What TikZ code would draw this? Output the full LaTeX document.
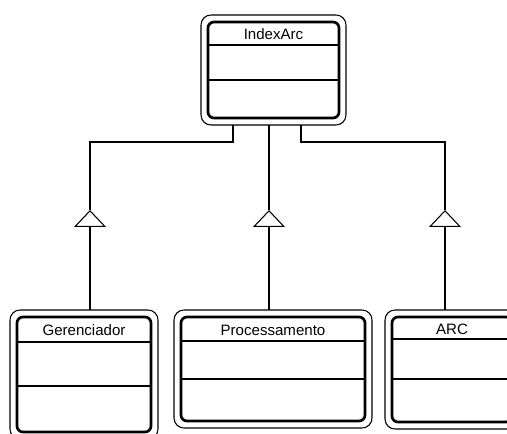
\documentclass[tikz,border=0pt]{standalone}
\usepackage{fontspec}
\setmainfont{Liberation Sans}
\usetikzlibrary{arrows.meta,calc}
\begin{document}
\begin{tikzpicture}[x=0.75pt,y=-0.75pt,line width=0.8pt,
    frame/.style={draw,line width=0.8pt,rounded corners=7.5pt,inner sep=0pt,outer sep=0pt},
    classbox/.style={draw,line width=2pt,rounded corners=4.5pt,inner sep=0pt,outer sep=0pt},
    title/.style={font=\fontsize{11.3}{13}\selectfont,inner sep=0pt,text height=1.5ex,text depth=0.25ex},
    gen/.style={-{Triangle[open,width=24pt,length=12.75pt]}}]
    \useasboundingbox (0,0) rectangle (507,434);
    \clip (0,0) rectangle (507,434);
    % --- classes: name/cx/cy/w/h/first line/second line/title
    \foreach \nm/\cx/\cy/\w/\h/\la/\lb/\txt in {
        indexarc/273.5/70/131/96/23/58/IndexArc,
        gerenc/84/374.5/134/115/25/69/Gerenciador,
        process/273/369/184/104/24/62/Processamento,
        arcbox/452/369.5/120/105/22/62/ARC} {
      \node[frame,minimum width=(\w+14)*0.75pt,minimum height=(\h+14)*0.75pt] (\nm-o) at (\cx,\cy) {};
      \node[classbox,minimum width=\w*0.75pt,minimum height=\h*0.75pt] (\nm) at (\cx,\cy) {};
      \node[title] (\nm-t) at ($(\nm.north)+(0,\la/2+2)$) {\txt};
      \draw ($(\nm.north west)+(0,\la)$) -- ($(\nm.north east)+(0,\la)$);
      \draw ($(\nm.north west)+(0,\lb)$) -- ($(\nm.north east)+(0,\lb)$);
    }
    % --- generalisations
    \coordinate (tg) at (90,210);
    \coordinate (tp) at (269,210);
    \coordinate (ta) at (445,210);
    \coordinate (bl) at (233,142);
    \coordinate (br) at (301,142);
    \draw[gen] (tg |- gerenc-o.north) -- (tg);
    \draw[gen] (tp |- process-o.north) -- (tp);
    \draw[gen] (ta |- arcbox-o.north) -- (ta);
    \draw (tg) |- (bl) -- (bl |- indexarc-o.south);
    \draw (tp) -- (tp |- indexarc-o.south);
    \draw (ta) |- (br) -- (br |- indexarc-o.south);
\end{tikzpicture}
\end{document}
